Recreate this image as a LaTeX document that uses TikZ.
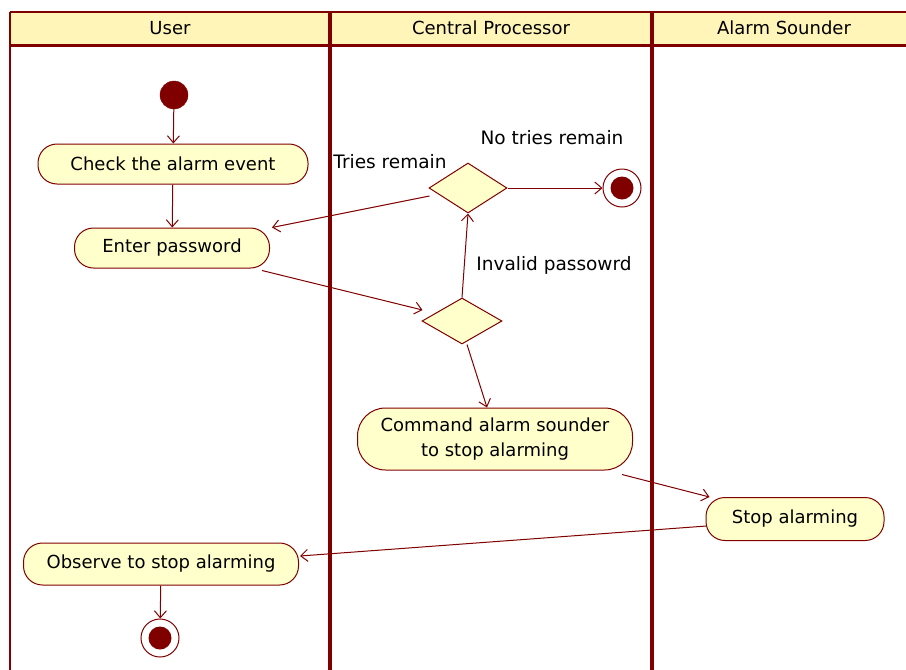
\documentclass[tikz,border=0pt]{standalone}
\usepackage{fontspec}
\setmainfont{DejaVu Sans}
\usetikzlibrary{shapes.geometric,arrows.meta,calc}
\definecolor{maroon}{RGB}{128,0,0}
\definecolor{pillfill}{RGB}{255,255,204}
\definecolor{headfill}{RGB}{255,245,185}
\tikzset{
  pill/.style={draw=maroon, line width=1pt, fill=pillfill, rectangle, rounded corners=19pt, inner sep=0pt, align=center, font=\fontsize{18}{25}\selectfont},
  choice/.style={draw=maroon, line width=1pt, fill=pillfill, diamond, inner sep=0pt, minimum width=78pt, minimum height=50pt},
  startdot/.style={circle, fill=maroon, draw=maroon, minimum size=28pt, inner sep=0pt},
  enddot/.style={circle, draw=maroon, line width=1pt, fill=white, minimum size=38pt, inner sep=0pt, path picture={\fill[maroon] (path picture bounding box.center) circle (11.5pt);}},
  flow/.style={draw=maroon, line width=1pt, -{Straight Barb[length=7pt,width=12pt,line width=1pt]}},
  lbl/.style={font=\fontsize{18.5}{22}\selectfont, inner sep=0pt},
  headtxt/.style={font=\fontsize{18}{22}\selectfont, inner sep=0pt},
}
\begin{document}
\begin{tikzpicture}[x=1pt,y=-1pt]
\useasboundingbox (0,0) rectangle (906,670);
% swimlane frame
\fill[headfill] (10,12) rectangle (906,45);
\draw[maroon, line width=2pt] (10,12) -- (906,12);
\draw[maroon, line width=3pt] (10,45) -- (906,45);
\draw[maroon, line width=2pt] (10,12) -- (10,670);
\draw[maroon, line width=4pt] (330,12) -- (330,670);
\draw[maroon, line width=4pt] (652,12) -- (652,670);
\node[headtxt] (hUser) at (170,28) {User};
\node[headtxt] (hCP) at (491,28) {Central Processor};
\node[headtxt] (hAS) at (784,28) {Alarm Sounder};
% nodes
\node[startdot] (start) at (174,95) {};
\node[pill, minimum width=270pt, minimum height=40pt] (check) at (173,164) {Check the alarm event};
\node[pill, minimum width=195pt, minimum height=40pt] (enter) at (172,248) {Enter password};
\node[choice] (d1) at (468,188) {};
\node[enddot] (f1) at (622,188) {};
\node[choice, minimum width=80pt, minimum height=46pt] (d2) at (462,321) {};
\node[pill, minimum width=275pt, minimum height=62pt, rounded corners=28pt] (cmd) at (495,439) {Command alarm sounder\\to stop alarming};
\node[pill, minimum width=178pt, minimum height=43pt] (stop) at (795,519) {Stop alarming};
\node[pill, minimum width=275pt, minimum height=42pt] (obs) at (161,564) {Observe to stop alarming};
\node[enddot] (f2) at (160,638) {};
% labels
\node[lbl] (lNo) at (552,138) {No tries remain};
\node[lbl] (lTries) at (390,162) {Tries remain};
\node[lbl] (lInv) at (554,265) {Invalid passowrd};
% flows
\draw[flow] (start) -- (check);
\draw[flow] (check) -- (enter);
\draw[flow] ($(enter.south east)+(-8,2)$) -- ($(d2.west)+(1,-11)$);
\draw[flow] (d2.north) -- (d1.south);
\draw[flow] ($(d1.west)+(1,8)$) -- ($(enter.north east)+(2,0)$);
\draw[flow] (d1.east) -- (f1.west);
\draw[flow] ($(d2.south)+(5,0)$) -- ($(cmd.north)+(-8,0)$);
\draw[flow] ($(cmd.south east)+(-11,4)$) -- ($(stop.north west)+(4,0)$);
\draw[flow] ($(stop.west)+(1,7)$) -- ($(obs.east)+(1,-8)$);
\draw[flow] (obs) -- (f2);
\end{tikzpicture}
\end{document}
